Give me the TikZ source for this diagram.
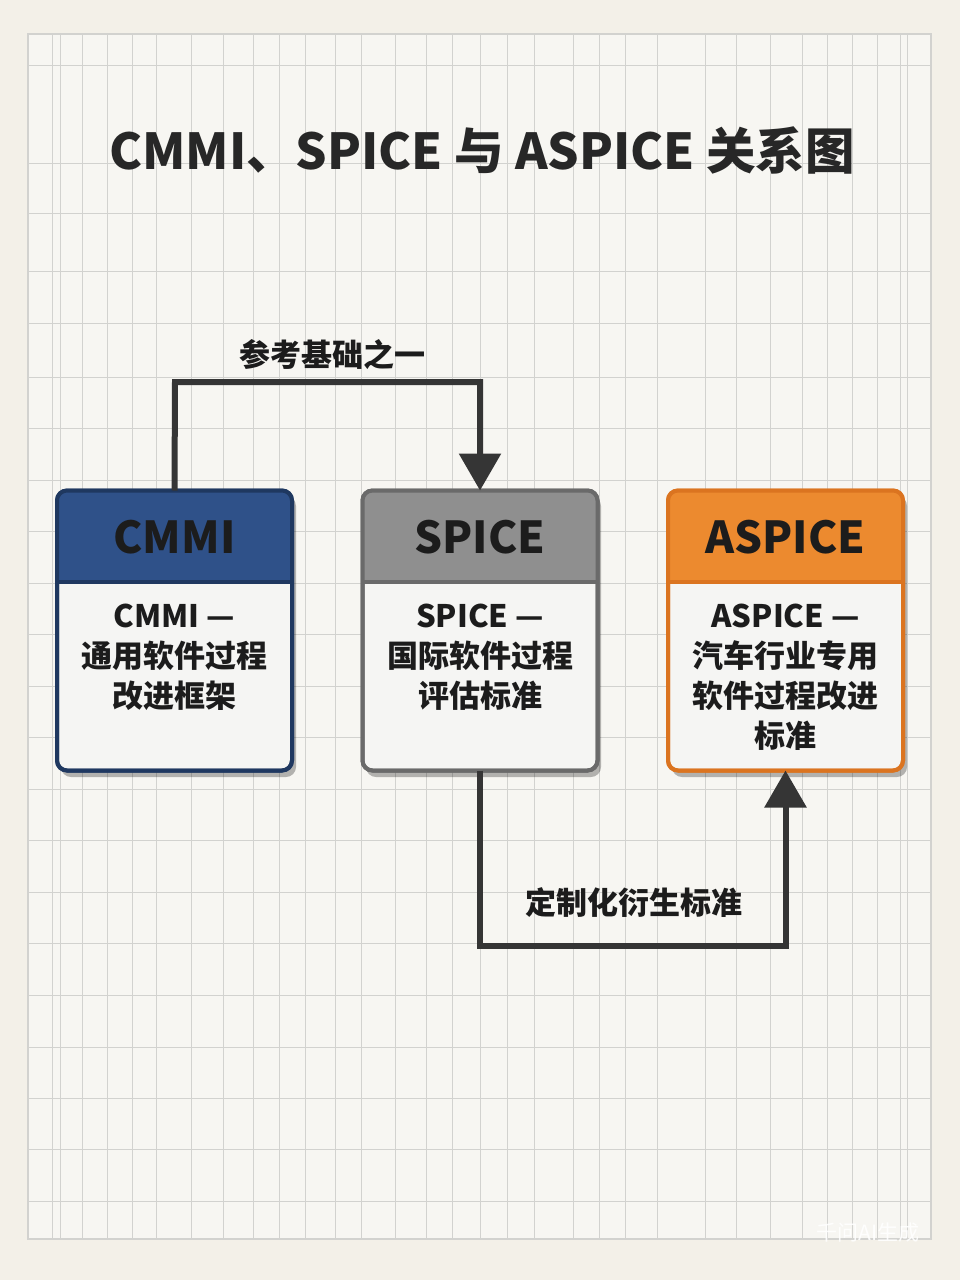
\documentclass[tikz,border=0pt]{standalone}
\usepackage{fontspec}
\setmainfont{Noto Sans CJK SC}
\usetikzlibrary{arrows.meta}
\definecolor{bgc}{HTML}{F3F0E8}
\definecolor{paperc}{HTML}{F7F6F2}
\definecolor{gridc}{HTML}{D2D2CF}
\definecolor{bodyc}{HTML}{F5F5F3}
\definecolor{cmmiH}{HTML}{2F5189}
\definecolor{cmmiB}{HTML}{1F3860}
\definecolor{spiceH}{HTML}{8F8F8F}
\definecolor{spiceB}{HTML}{6A6A6A}
\definecolor{aspH}{HTML}{EC8A2F}
\definecolor{aspB}{HTML}{DB7420}
\definecolor{inkc}{HTML}{1C1C1C}
\definecolor{connc}{HTML}{353535}
\tikzset{
  boxbody/.style={rectangle, rounded corners=10, minimum width=235, minimum height=280, fill=bodyc, line width=4, inner sep=0, outer sep=0},
  hdrtext/.style={font=\fontsize{44}{50}\selectfont\bfseries, text=inkc},
  bodytext/.style={font=\fontsize{31}{40}\selectfont\bfseries, text=inkc, align=center},
  lbl/.style={font=\fontsize{31}{36}\selectfont\bfseries, text=inkc},
  titletext/.style={font=\fontsize{49.5}{56}\selectfont\bfseries, text=inkc!95!white},
  conn/.style={draw=connc, line width=6, -{Triangle[width=41,length=37]}},
  gridline/.style={draw=gridc, line width=0.9},
  shadowbox/.style={fill=black, opacity=0.28, rounded corners=10},
}
\begin{document}
\begin{tikzpicture}[x=1pt,y=-1pt]
\useasboundingbox (0,0) rectangle (960,1280);
% background paper
\fill[bgc] (0,0) rectangle (960,1280);
\fill[paperc] (28,34) rectangle (931,1239);
\foreach \gx in {52,60,82,107,132,156,191,223,253,279,305,335,361,395,426,452,480,507,534,573,599,625,657,705,736,770,802,827,852,877,900,907}
  \draw[gridline] (\gx,34) -- (\gx,1239);
\foreach \gy in {65,163,213,271,323,377,428,480,531,583,634,686,737,789,840,892,943,995,1047,1098,1149,1201}
  \draw[gridline] (28,\gy) -- (931,\gy);
\draw[gridline, line width=1.3] (28,34) rectangle (931,1239);

% title
\node[titletext] (title) at (482,150) {CMMI、SPICE 与 ASPICE 关系图};

% shadows
\fill[shadowbox] (61,496) rectangle (296,777);
\fill[shadowbox] (366,496) rectangle (601,777);
\fill[shadowbox] (672,496) rectangle (907,777);

% CMMI box
\node[boxbody, draw=cmmiB] (cmmi) at (174.5,630.5) {};
\begin{scope}
  \clip[rounded corners=10] (cmmi.north west) rectangle (cmmi.south east);
  \fill[cmmiH] (cmmi.north west) rectangle ([yshift=-91]cmmi.north east);
\end{scope}
\draw[cmmiB, line width=4] ([yshift=-91]cmmi.north west) -- ([yshift=-91]cmmi.north east);
\draw[cmmiB, line width=4, rounded corners=10] (cmmi.north west) rectangle (cmmi.south east);
\node[hdrtext] (cmmi-t) at (174.5,537) {CMMI};
\node[bodytext] (cmmi-b) at (174.5,657) {CMMI —\\通用软件过程\\改进框架};

% SPICE box
\node[boxbody, draw=spiceB] (spice) at (480,630.5) {};
\begin{scope}
  \clip[rounded corners=10] (spice.north west) rectangle (spice.south east);
  \fill[spiceH] (spice.north west) rectangle ([yshift=-91]spice.north east);
\end{scope}
\draw[spiceB, line width=4] ([yshift=-91]spice.north west) -- ([yshift=-91]spice.north east);
\draw[spiceB, line width=4, rounded corners=10] (spice.north west) rectangle (spice.south east);
\node[hdrtext] (spice-t) at (480,537) {SPICE};
\node[bodytext] (spice-b) at (480,657) {SPICE —\\国际软件过程\\评估标准};

% ASPICE box
\node[boxbody, draw=aspB] (aspice) at (785.5,630.5) {};
\begin{scope}
  \clip[rounded corners=10] (aspice.north west) rectangle (aspice.south east);
  \fill[aspH] (aspice.north west) rectangle ([yshift=-91]aspice.north east);
\end{scope}
\draw[aspB, line width=4] ([yshift=-91]aspice.north west) -- ([yshift=-91]aspice.north east);
\draw[aspB, line width=4, rounded corners=10] (aspice.north west) rectangle (aspice.south east);
\node[hdrtext] (aspice-t) at (785.5,537) {ASPICE};
\node[bodytext] (aspice-b) at (785.5,677) {ASPICE —\\汽车行业专用\\软件过程改进\\标准};

% connectors
\coordinate (c1) at (175,382);
\coordinate (c2) at (480,946);
\draw[conn] (cmmi.north) -- (c1) -| (spice.north);
\draw[conn] (spice.south) -- (c2) -| (aspice.south);
\node[lbl] (l1) at (332,355) {参考基础之一};
\node[lbl] (l2) at (634,903) {定制化衍生标准};

% watermark
\node[font=\fontsize{21}{24}\selectfont, text=white, opacity=0.9] (wm) at (868,1233) {千问AI生成};
\end{tikzpicture}
\end{document}
